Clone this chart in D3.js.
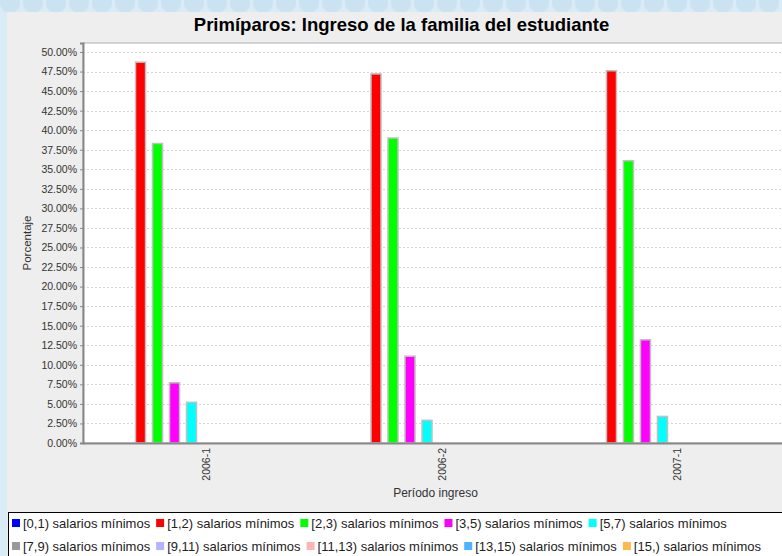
<!DOCTYPE html>
<html>
<head>
<meta charset="utf-8">
<script src="https://cdn.jsdelivr.net/npm/d3@7/dist/d3.min.js"></script>
<style>
	body { margin:0; padding:0; background:#d8ebf6; }
	svg { display:block; font-family:"Liberation Sans", Arial, sans-serif; }
</style>
</head>
<body>
<div id="chart-area"></div>
<script>
/*
*    Primiparos - ingreso de la familia
*/

// data
var periods = ["2006-1", "2006-2", "2007-1"];
var ranges = ["[0,1) salarios mínimos", "[1,2) salarios mínimos", "[2,3) salarios mínimos",
	"[3,5) salarios mínimos", "[5,7) salarios mínimos", "[7,9) salarios mínimos",
	"[9,11) salarios mínimos", "[11,13) salarios mínimos", "[13,15) salarios mínimos",
	"[15,) salarios mínimos"];
var values2006_1 = [0, 48.7, 38.3, 7.7, 5.2, 0, 0, 0, 0, 0];
var values2006_2 = [0, 47.2, 39.0, 11.1, 2.9, 0, 0, 0, 0, 0];
var values2007_1 = [0, 47.6, 36.1, 13.2, 3.4, 0, 0, 0, 0, 0];
var rangeColors = ["#0000ff", "#ff0000", "#00ff00", "#ff00ff", "#00ffff",
	"#999999", "#b3b3ff", "#ffb3b3", "#4db3ff", "#ffb84d"];
var yTicks = d3.range(0, 50.01, 2.5);

var allValues = [values2006_1, values2006_2, values2007_1];

var W = 782, H = 556;
var plot = {left:83, right:788, top:43, bottom:443};

var svg = d3.select("#chart-area")
	.append("svg")
		.attr("width", W)
		.attr("height", H);

// page background with the faint circles
var bg = svg.append("g");
d3.range(0, 36).forEach(function(i){
	bg.append("circle")
		.attr("cx", 10 + i*23)
		.attr("cy", 3)
		.attr("r", 10)
		.attr("fill", "#cbe2f0");
});

// chart panel
svg.append("rect")
	.attr("x", 7)
	.attr("y", 12)
	.attr("width", 790)
	.attr("height", 560)
	.attr("fill", "#eeeeee");

svg.append("text")
	.attr("x", 401.5)
	.attr("y", 31)
	.attr("text-anchor", "middle")
	.attr("font-size", 18.5)
	.attr("font-weight", "bold")
	.attr("fill", "#000")
	.text("Primíparos: Ingreso de la familia del estudiante");

//scales
var x0 = d3.scaleBand()
	.domain(periods)
	.range([plot.left, plot.right])
	.paddingInner(0.278)
	.paddingOuter(0.136);

var x1 = d3.scaleBand()
	.domain(ranges)
	.range([0, x0.bandwidth()])
	.paddingInner(0.41)
	.paddingOuter(0.205);

var y = d3.scaleLinear()
	.domain([0, 51.15])
	.range([plot.bottom, plot.top]);

// plot background
svg.append("rect")
	.attr("x", plot.left)
	.attr("y", plot.top)
	.attr("width", plot.right - plot.left)
	.attr("height", plot.bottom - plot.top)
	.attr("fill", "#ffffff")
	.attr("stroke", "#b0b0b0")
	.attr("stroke-width", 1);

// gridlines
svg.append("g")
	.selectAll("line")
	.data(yTicks)
	.enter().append("line")
		.attr("x1", plot.left)
		.attr("x2", plot.right)
		.attr("y1", function(d){ return Math.round(y(d)) + 0.5 })
		.attr("y2", function(d){ return Math.round(y(d)) + 0.5 })
		.attr("stroke", "#d4d4d4")
		.attr("stroke-dasharray", "2,2");

// bars
var groups = svg.append("g")
	.selectAll("g")
	.data(periods)
	.enter().append("g")
		.attr("transform", function(d){ return "translate(" + x0(d) + ",0)" });

groups.selectAll("rect")
	.data(function(d, i){
		return ranges.map(function(r, j){ return {range:r, value:allValues[i][j], color:rangeColors[j]} })
			.filter(function(e){ return e.value > 0 });
	})
	.enter().append("rect")
		.attr("x", function(d){ return x1(d.range) })
		.attr("y", function(d){ return y(d.value) })
		.attr("width", x1.bandwidth())
		.attr("height", function(d){ return y(0) - y(d.value) })
		.attr("fill", function(d){ return d.color })
		.attr("stroke", "#c0c0c0")
		.attr("stroke-width", 1.5);

//y axis
var yAxisCall = d3.axisLeft(y)
	.tickValues(yTicks)
	.tickSize(3)
	.tickFormat(function(d){ return d3.format(".2f")(d) + "%" });

var yAxis = svg.append("g")
	.attr("transform", "translate(" + plot.left + ",0)")
	.call(yAxisCall);
yAxis.select(".domain").attr("stroke", "#888888").attr("stroke-width", 2);
yAxis.selectAll(".tick line").attr("stroke", "#888888");
yAxis.selectAll(".tick text")
	.attr("font-size", 10.5)
	.attr("font-family", "Liberation Sans, Arial, sans-serif")
	.attr("fill", "#333")
	.attr("x", -6);

//x axis
var xAxisCall = d3.axisBottom(x0)
	.tickSize(0);

var xAxis = svg.append("g")
	.attr("transform", "translate(0," + plot.bottom + ")")
	.call(xAxisCall);
xAxis.select(".domain").attr("stroke", "#888888").attr("stroke-width", 2);
xAxis.selectAll(".tick text")
	.attr("font-size", 10.5)
	.attr("font-family", "Liberation Sans, Arial, sans-serif")
	.attr("fill", "#333")
	.attr("transform", "rotate(-90)")
	.attr("text-anchor", "end")
	.attr("x", -5)
	.attr("y", 10)
	.attr("dy", 0);

//labels
svg.append("text")
	.attr("transform", "translate(31," + ((plot.top + plot.bottom)/2) + ") rotate(-90)")
	.attr("text-anchor", "middle")
	.attr("font-size", 11.5)
	.attr("fill", "#333")
	.text("Porcentaje");

svg.append("text")
	.attr("x", (plot.left + plot.right)/2)
	.attr("y", 497)
	.attr("text-anchor", "middle")
	.attr("font-size", 12)
	.attr("fill", "#333")
	.text("Período ingreso");

//legend
svg.append("rect")
	.attr("x", 8.5)
	.attr("y", 512.5)
	.attr("width", 800)
	.attr("height", 60)
	.attr("fill", "#ffffff")
	.attr("stroke", "#000")
	.attr("stroke-width", 1);

var legend = svg.append("g");
var lx = 12, row = 0;
ranges.forEach(function(r, i){
	if (i == 5) { lx = 12; row = 1; }
	var item = legend.append("g")
		.attr("transform", "translate(" + lx + "," + (519 + row*23) + ")");
	item.append("rect")
		.attr("width", 8)
		.attr("height", 8)
		.attr("fill", rangeColors[i]);
	var t = item.append("text")
		.attr("x", 11)
		.attr("y", 9)
		.attr("font-size", 13)
		.attr("fill", "#222")
		.text(r);
	lx += 11 + t.node().getComputedTextLength() + 6;
});
</script>
</body>
</html>
